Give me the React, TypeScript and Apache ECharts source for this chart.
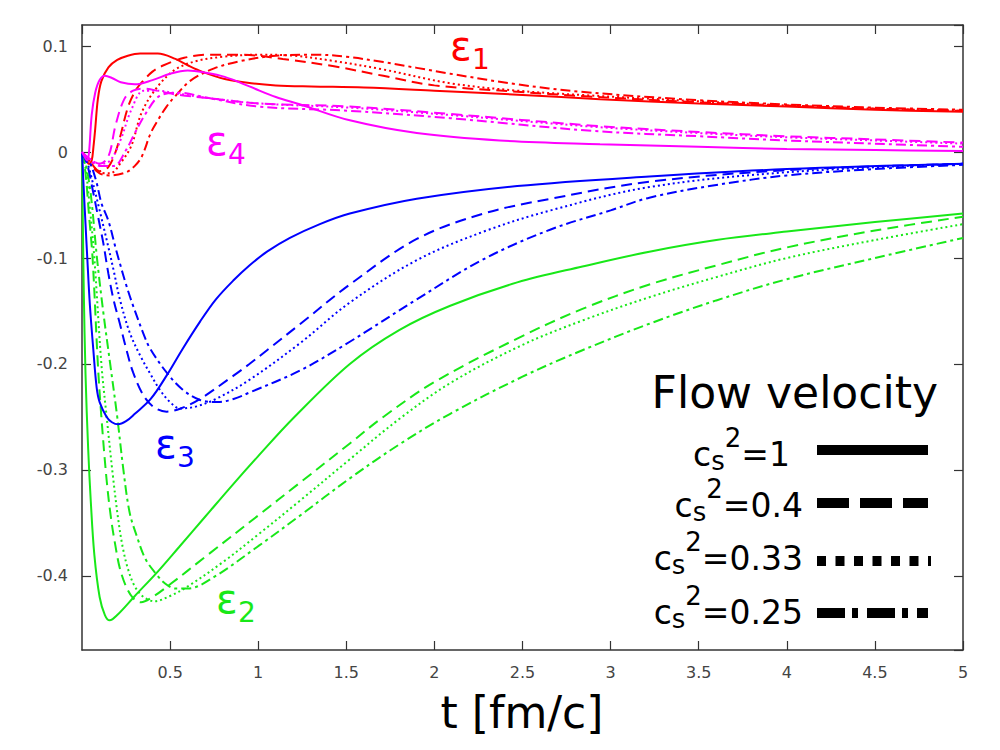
import React, { useEffect, useRef } from "react";
import * as echarts from "echarts";

// ---------- axes ----------
const X_MIN = 0;
const X_MAX = 5;
const X_STEP = 0.5;
const Y_MIN = -0.47;
const Y_MAX = 0.12;
const Y_STEP = 0.1;

const X_TITLE = "t [fm/c]";
const LEGEND_TITLE = "Flow velocity";
const CS2_VALUES = ["1", "0.4", "0.33", "0.25"];
const EPS_NAMES = ["1", "2", "3", "4"];

// ---------- ε1 (red) ----------
const e1_cs1 = [[0,0],[0.02,-0.006],[0.04,-0.011],[0.055,-0.008],[0.065,0.005],[0.075,0.022],[0.09,0.05],[0.11,0.067],[0.15,0.08],[0.2,0.087],[0.26,0.091],[0.33,0.093],[0.43,0.093],[0.53,0.088],[0.6,0.082],[0.68,0.076],[0.81,0.069],[0.96,0.065],[1.1,0.063],[1.3,0.062],[1.6,0.061],[2.0,0.058],[2.5,0.054],[2.94,0.05],[3.5,0.046],[4.0,0.043],[4.5,0.04],[5.0,0.038]];
const e1_cs04 = [[0,0],[0.05,-0.01],[0.1,-0.018],[0.15,-0.014],[0.2,0.005],[0.26,0.042],[0.3,0.057],[0.34,0.066],[0.4,0.076],[0.45,0.081],[0.58,0.089],[0.72,0.092],[0.9,0.092],[1.14,0.088],[1.43,0.081],[1.71,0.072],[2.0,0.063],[2.47,0.057],[2.83,0.053],[3.5,0.047],[4.0,0.044],[4.5,0.041],[5.0,0.039]];
const e1_cs033 = [[0,0],[0.05,-0.01],[0.1,-0.019],[0.16,-0.02],[0.22,-0.01],[0.28,0.006],[0.34,0.038],[0.43,0.062],[0.53,0.078],[0.65,0.086],[0.8,0.09],[1.0,0.092],[1.2,0.091],[1.43,0.086],[1.71,0.078],[2.09,0.065],[2.47,0.058],[2.83,0.054],[3.5,0.048],[4.0,0.044],[4.5,0.041],[5.0,0.039]];
const e1_cs025 = [[0,0],[0.05,-0.012],[0.1,-0.02],[0.16,-0.022],[0.25,-0.019],[0.3,-0.013],[0.34,-0.004],[0.39,0.018],[0.43,0.03],[0.48,0.043],[0.53,0.053],[0.62,0.068],[0.75,0.079],[0.9,0.086],[1.1,0.091],[1.33,0.092],[1.5,0.09],[1.71,0.085],[2.09,0.074],[2.47,0.064],[2.83,0.057],[3.5,0.049],[4.0,0.045],[4.5,0.042],[5.0,0.04]];

// ---------- ε2 (green) ----------
const e2_cs1 = [[0,0],[0.005,-0.07],[0.01,-0.13],[0.02,-0.21],[0.035,-0.28],[0.05,-0.33],[0.07,-0.38],[0.1,-0.42],[0.13,-0.437],[0.157,-0.442],[0.2,-0.437],[0.3,-0.419],[0.43,-0.396],[0.55,-0.373],[0.7,-0.344],[0.85,-0.315],[1.0,-0.287],[1.2,-0.251],[1.52,-0.2],[1.8,-0.168],[2.09,-0.145],[2.47,-0.123],[2.84,-0.108],[3.22,-0.094],[3.6,-0.083],[4.0,-0.075],[4.5,-0.066],[5.0,-0.058]];
const e2_cs04 = [[0,0],[0.02,-0.02],[0.04,-0.06],[0.06,-0.1],[0.09,-0.2],[0.11,-0.25],[0.14,-0.31],[0.165,-0.346],[0.19,-0.372],[0.215,-0.393],[0.25,-0.41],[0.29,-0.421],[0.335,-0.425],[0.4,-0.42],[0.5,-0.408],[0.7,-0.382],[1.0,-0.343],[1.23,-0.313],[1.52,-0.275],[1.71,-0.25],[2.0,-0.217],[2.47,-0.176],[2.84,-0.148],[3.22,-0.125],[3.6,-0.107],[4.0,-0.09],[4.5,-0.074],[5.0,-0.061]];
const e2_cs033 = [[0,0],[0.02,-0.015],[0.04,-0.045],[0.07,-0.1],[0.11,-0.2],[0.14,-0.25],[0.175,-0.305],[0.205,-0.346],[0.23,-0.372],[0.26,-0.393],[0.3,-0.41],[0.35,-0.42],[0.41,-0.424],[0.5,-0.419],[0.6,-0.41],[0.8,-0.387],[1.0,-0.361],[1.23,-0.33],[1.52,-0.29],[1.8,-0.252],[2.1,-0.217],[2.5,-0.182],[2.84,-0.159],[3.22,-0.137],[3.6,-0.118],[4.0,-0.1],[4.5,-0.083],[5.0,-0.068]];
const e2_cs025 = [[0,0],[0.02,-0.01],[0.05,-0.04],[0.085,-0.1],[0.12,-0.15],[0.16,-0.2],[0.2,-0.25],[0.235,-0.3],[0.27,-0.34],[0.31,-0.362],[0.36,-0.384],[0.42,-0.398],[0.47,-0.407],[0.53,-0.412],[0.6,-0.412],[0.75,-0.401],[1.0,-0.372],[1.23,-0.344],[1.52,-0.308],[1.8,-0.276],[2.09,-0.247],[2.5,-0.212],[2.84,-0.187],[3.22,-0.162],[3.6,-0.14],[4.0,-0.12],[4.5,-0.1],[5.0,-0.081]];

// ---------- ε3 (blue) ----------
const e3_cs1 = [[0,0],[0.01,-0.035],[0.02,-0.068],[0.03,-0.1],[0.045,-0.145],[0.064,-0.186],[0.083,-0.222],[0.1,-0.236],[0.14,-0.25],[0.17,-0.255],[0.204,-0.257],[0.25,-0.254],[0.3,-0.247],[0.39,-0.233],[0.48,-0.211],[0.57,-0.186],[0.67,-0.16],[0.76,-0.139],[0.86,-0.121],[0.95,-0.107],[1.05,-0.094],[1.18,-0.081],[1.35,-0.068],[1.52,-0.058],[1.9,-0.044],[2.47,-0.032],[3.22,-0.023],[4.0,-0.016],[5.0,-0.011]];
const e3_cs04 = [[0,0],[0.03,-0.012],[0.06,-0.035],[0.09,-0.06],[0.12,-0.085],[0.15,-0.115],[0.18,-0.14],[0.215,-0.162],[0.25,-0.185],[0.29,-0.208],[0.35,-0.23],[0.41,-0.241],[0.48,-0.245],[0.56,-0.242],[0.67,-0.233],[0.86,-0.211],[0.95,-0.2],[1.05,-0.187],[1.24,-0.162],[1.52,-0.125],[1.9,-0.082],[2.28,-0.058],[2.66,-0.044],[3.22,-0.028],[4.0,-0.017],[5.0,-0.011]];
const e3_cs033 = [[0,0],[0.03,-0.01],[0.06,-0.028],[0.1,-0.055],[0.15,-0.09],[0.18,-0.112],[0.215,-0.139],[0.27,-0.17],[0.33,-0.192],[0.39,-0.21],[0.44,-0.224],[0.5,-0.236],[0.556,-0.242],[0.65,-0.24],[0.76,-0.233],[0.95,-0.215],[1.24,-0.18],[1.52,-0.142],[1.9,-0.102],[2.28,-0.075],[2.66,-0.055],[3.22,-0.033],[4.0,-0.019],[5.0,-0.011]];
const e3_cs025 = [[0,0],[0.04,-0.008],[0.08,-0.027],[0.11,-0.048],[0.15,-0.065],[0.19,-0.09],[0.215,-0.105],[0.25,-0.125],[0.29,-0.145],[0.35,-0.172],[0.385,-0.185],[0.48,-0.208],[0.57,-0.224],[0.67,-0.234],[0.77,-0.236],[0.86,-0.233],[0.95,-0.227],[1.24,-0.206],[1.52,-0.179],[1.9,-0.139],[2.28,-0.101],[2.66,-0.073],[3.0,-0.055],[3.22,-0.043],[3.6,-0.031],[4.0,-0.022],[4.5,-0.016],[5.0,-0.012]];

// ---------- ε4 (magenta) ----------
const e4_cs1 = [[0,0],[0.02,-0.006],[0.03,-0.008],[0.04,0.0],[0.055,0.035],[0.075,0.056],[0.1,0.068],[0.13,0.072],[0.17,0.07],[0.22,0.066],[0.3,0.064],[0.4,0.068],[0.5,0.074],[0.6,0.077],[0.7,0.075],[0.81,0.071],[0.95,0.062],[1.1,0.052],[1.24,0.045],[1.52,0.03],[1.9,0.018],[2.37,0.011],[2.94,0.0075],[3.5,0.005],[4.0,0.003],[4.5,0.002],[5.0,0.001]];
const e4_cs04 = [[0,0],[0.05,-0.007],[0.1,-0.011],[0.15,-0.004],[0.19,0.025],[0.24,0.05],[0.29,0.058],[0.35,0.06],[0.45,0.057],[0.55,0.054],[0.72,0.051],[1.0,0.046],[1.52,0.043],[2.09,0.036],[2.9,0.025],[3.5,0.019],[4.0,0.015],[4.5,0.012],[5.0,0.009]];
const e4_cs033 = [[0,0],[0.05,-0.007],[0.1,-0.011],[0.16,-0.008],[0.22,0.012],[0.28,0.04],[0.35,0.058],[0.42,0.058],[0.55,0.055],[0.72,0.051],[1.0,0.046],[1.52,0.042],[2.09,0.035],[2.9,0.024],[3.5,0.018],[4.0,0.014],[4.5,0.011],[5.0,0.008]];
const e4_cs025 = [[0,0],[0.05,-0.008],[0.1,-0.013],[0.18,-0.013],[0.25,0.002],[0.3,0.018],[0.36,0.036],[0.44,0.053],[0.55,0.056],[0.72,0.051],[1.0,0.043],[1.52,0.039],[2.09,0.032],[2.9,0.02],[3.5,0.015],[4.0,0.011],[4.5,0.008],[5.0,0.005]];

const EPS_DATA = [
  [e1_cs1, e1_cs04, e1_cs033, e1_cs025],
  [e2_cs1, e2_cs04, e2_cs033, e2_cs025],
  [e3_cs1, e3_cs04, e3_cs033, e3_cs025],
  [e4_cs1, e4_cs04, e4_cs033, e4_cs025],
];

const COLORS = ["#ff0000", "#18e818", "#0000ff", "#ff00ff"];
const LINE_DASH: any[] = ["solid", [11, 6], [2, 3], [10, 4, 3, 4]];
const LEGEND_DASH: any[] = [null, [32, 11], [9, 9.5], [28, 7, 6, 9]];

const FONT = '"DejaVu Sans", "Liberation Sans", sans-serif';

let measureCtx: CanvasRenderingContext2D | null = null;
function textWidth(text: string, size: number): number {
  if (!measureCtx) measureCtx = document.createElement("canvas").getContext("2d");
  if (!measureCtx) return text.length * size * 0.6;
  measureCtx.font = `${size}px ${FONT}`;
  return measureCtx.measureText(text).width;
}

export default function App() {
  const ref = useRef<HTMLDivElement>(null);

  useEffect(() => {
    if (!ref.current) return;
    const chart = echarts.init(ref.current, null, { renderer: "svg" });

    const series: any[] = [];
    EPS_DATA.forEach((group, ei) => {
      group.forEach((data, ci) => {
        series.push({
          type: "line",
          name: `eps${EPS_NAMES[ei]} cs2=${CS2_VALUES[ci]}`,
          data,
          xAxisIndex: 0,
          yAxisIndex: 0,
          showSymbol: false,
          symbol: "none",
          smooth: 0.35,
          silent: true,
          lineStyle: { color: COLORS[ei], width: 2, type: LINE_DASH[ci], cap: "butt" },
          itemStyle: { color: COLORS[ei] },
          z: 2,
        });
      });
    });

    const axisColor = "#333";
    const tickStyle = { show: true, inside: true, length: 9, lineStyle: { color: axisColor, width: 1.2 } };
    const lineStyle = { show: true, onZero: false, lineStyle: { color: axisColor, width: 1.5 } };

    const graphic: any[] = [];
    const txt = (x: number, y: number, text: string, size: number, fill: string, align = "left") => ({
      type: "text", x, y, silent: true,
      style: { text, fontSize: size, fontFamily: FONT, fill, align, verticalAlign: "middle" },
    });

    // epsilon labels
    const epsPos = [
      [450, 46],
      [216, 599],
      [155, 444],
      [206, 141],
    ];
    EPS_NAMES.forEach((n, i) => {
      const [x, y] = epsPos[i];
      graphic.push(txt(x, y, "ε", 40, COLORS[i]));
      graphic.push(txt(x + 22, y + 13, n, 28, COLORS[i]));
    });

    // legend title
    graphic.push(txt(938, 392, LEGEND_TITLE, 44, "#000", "right"));

    // legend entries: c_s^2=value, laid out right to left
    const legendTextY = [454, 505, 558, 612];
    const legendLineY = [450, 503, 561, 613];
    const legendRight = [790, 803, 803, 803];
    CS2_VALUES.forEach((v, i) => {
      const Y = legendTextY[i];
      let r = legendRight[i];
      const main = "=" + v;
      graphic.push(txt(r, Y, main, 33, "#000", "right"));
      r -= textWidth(main, 33);
      graphic.push(txt(r, Y - 16, "2", 26, "#000", "right"));
      r -= textWidth("2", 26);
      graphic.push(txt(r, Y + 7, "s", 26, "#000", "right"));
      r -= textWidth("s", 26);
      graphic.push(txt(r, Y, "c", 33, "#000", "right"));

      const ls: any = { stroke: "#000", lineWidth: 10, lineCap: "butt" };
      if (LEGEND_DASH[i]) ls.lineDash = LEGEND_DASH[i];
      graphic.push({
        type: "line", silent: true,
        shape: { x1: 817, y1: legendLineY[i], x2: i === 2 ? 931 : 928, y2: legendLineY[i] },
        style: ls,
      });
    });

    // x title
    graphic.push(txt(522, 712, X_TITLE, 44, "#000", "center"));

    const labelFmt = (v: number) => String(Math.round(v * 10) / 10);

    const option: any = {
      animation: false,
      backgroundColor: "#ffffff",
      grid: { left: 82, right: 37, top: 25, bottom: 100, containLabel: false, outerBoundsMode: "none" },
      xAxis: [
        {
          type: "value", position: "bottom", min: X_MIN, max: X_MAX, interval: X_STEP,
          axisLine: lineStyle, axisTick: tickStyle, splitLine: { show: false },
          axisLabel: { show: true, showMinLabel: false, fontSize: 16, fontFamily: FONT, color: "#444", margin: 14, formatter: labelFmt },
        },
        {
          type: "value", position: "top", min: X_MIN, max: X_MAX, interval: X_STEP,
          axisLine: lineStyle, axisTick: tickStyle, splitLine: { show: false }, axisLabel: { show: false },
        },
      ],
      yAxis: [
        {
          type: "value", position: "left", min: Y_MIN, max: Y_MAX, minInterval: Y_STEP, maxInterval: Y_STEP,
          axisLine: lineStyle, axisTick: tickStyle, splitLine: { show: false },
          axisLabel: { show: true, showMinLabel: false, showMaxLabel: false, fontSize: 16, fontFamily: FONT, color: "#444", margin: 14, formatter: labelFmt },
        },
        {
          type: "value", position: "right", min: Y_MIN, max: Y_MAX, minInterval: Y_STEP, maxInterval: Y_STEP,
          axisLine: lineStyle, axisTick: tickStyle, splitLine: { show: false }, axisLabel: { show: false },
        },
      ],
      series,
      graphic,
    };

    chart.setOption(option);
    return () => chart.dispose();
  }, []);

  return (
    <div
      ref={ref}
      style={{ position: "absolute", left: 0, top: 0, width: 1000, height: 750, background: "#fff" }}
    />
  );
}
